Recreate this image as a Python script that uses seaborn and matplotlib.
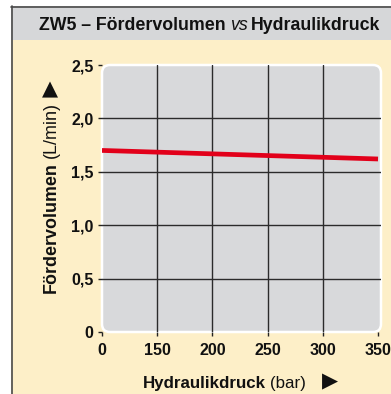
import numpy as np
import pandas as pd
import seaborn as sns
import matplotlib
matplotlib.use("Agg")
import matplotlib.pyplot as plt
from matplotlib import font_manager
from matplotlib.patches import Rectangle, FancyBboxPatch
from matplotlib.lines import Line2D
from matplotlib.transforms import IdentityTransform

# --- data -------------------------------------------------------------
# pressure axis starts at a broken origin: the "0" tick sits where 100 bar would be
pressure_bar = [100, 350]
flow_l_min = [1.70, 1.62]
x_ticks = [100, 150, 200, 250, 300, 350]
x_tick_labels = ["0", "150", "200", "250", "300", "350"]
y_ticks = [0, 0.5, 1.0, 1.5, 2.0, 2.5]
y_tick_labels = ["0", "0,5", "1,0", "1,5", "2,0", "2,5"]

df = pd.DataFrame({"Druck": pressure_bar, "Volumen": flow_l_min})

# --- style ------------------------------------------------------------
sns.set_theme(style="white")
available = {f.name for f in font_manager.fontManager.ttflist}
FAM = "Liberation Sans Narrow" if "Liberation Sans Narrow" in available else "Liberation Sans"
FAMS = [FAM, "DejaVu Sans"]
plt.rcParams["font.family"] = FAMS

CREAM = "#fdefc8"
HEADER = "#d6d7d9"
PANEL = "#d8d9db"
RED = "#e2001a"
INK = "#111111"

W, H = 391, 394
fig = plt.figure(figsize=(W / 100, H / 100), dpi=100)
fig.patch.set_facecolor("white")

def px(x0, y_top, x1, y_bot):
    """pixel box (top-left origin) -> figure fraction rect"""
    return (x0 / W, (H - y_bot) / H, (x1 - x0) / W, (y_bot - y_top) / H)

# background frame: cream body, grey header, dark border top and left
x, y, w, h = px(11, 6, W, H)
fig.patches.append(Rectangle((x, y), w, h, transform=fig.transFigure,
                             facecolor=CREAM, edgecolor="none", zorder=-5))
x, y, w, h = px(11, 6, W, 40)
fig.patches.append(Rectangle((x, y), w, h, transform=fig.transFigure,
                             facecolor=HEADER, edgecolor="none", zorder=-4))
fig.lines.append(Line2D([11.5 / W, 11.5 / W], [0, (H - 6) / H], transform=fig.transFigure,
                        color="#4a4a4a", lw=1.2, zorder=-3))
fig.lines.append(Line2D([11 / W, 1], [(H - 6.5) / H, (H - 6.5) / H], transform=fig.transFigure,
                        color="#4a4a4a", lw=1.2, zorder=-3))

# plot axes
AX_L, AX_T, AX_R, AX_B = 102, 65, 381, 332
ax = fig.add_axes(px(AX_L, AX_T, AX_R, AX_B))
ax.set_facecolor("none")

# rounded grey panel with a white rim behind the axes
panel = FancyBboxPatch((AX_L, H - AX_B), AX_R - AX_L, AX_B - AX_T,
                       boxstyle="round,pad=0,rounding_size=8",
                       transform=IdentityTransform(),
                       facecolor=PANEL, edgecolor="white", lw=1.8, zorder=-2)
fig.patches.append(panel)

sns.lineplot(data=df, x="Druck", y="Volumen", ax=ax, color=RED, lw=3.4,
             solid_capstyle="butt", legend=False, zorder=5)

ax.set_xlim(100, 352.7)
ax.set_ylim(0, 2.5)
ax.set_xticks(x_ticks)
ax.set_xticklabels(x_tick_labels)
ax.set_yticks(y_ticks)
ax.set_yticklabels(y_tick_labels)
for s in ax.spines.values():
    s.set_visible(False)
ax.tick_params(axis="both", which="major", direction="out", length=3, width=1,
               color="#222222", labelsize=11.5, labelcolor=INK)
ax.tick_params(axis="x", pad=5, bottom=True)
ax.tick_params(axis="y", pad=3, left=True)
for lab in ax.get_xticklabels() + ax.get_yticklabels():
    lab.set_fontweight("bold")
    lab.set_family(FAMS)
ax.set_xlabel("")
ax.set_ylabel("")

# interior grid lines only
for xv in x_ticks[1:-1]:
    ax.axvline(xv, color="#2b2b2b", lw=1.0, zorder=2)
for yv in y_ticks[1:-1]:
    ax.axhline(yv, color="#2b2b2b", lw=1.0, zorder=2)

# --- mixed-style text runs ---------------------------------------------
renderer = fig.canvas.get_renderer()

def text_run(pieces, start, end, baseline, rotation=0, size=14, gap=4):
    """Lay out (string, weight, style) pieces along a baseline between start and end
    (pixels), shrinking the font so that the run fills that span."""
    def layout(sz):
        texts, pos = [], start
        for i, (s, wgt, sty) in enumerate(pieces):
            xy = (pos, baseline) if rotation == 0 else (baseline, pos)
            t = fig.text(*xy, s, transform=IdentityTransform(), fontsize=sz,
                         fontweight=wgt, fontstyle=sty, family=FAMS, color=INK,
                         rotation=rotation, rotation_mode="anchor",
                         ha="left", va="baseline")
            bb = t.get_window_extent(renderer)
            pos += (bb.width if rotation == 0 else bb.height)
            if i < len(pieces) - 1:
                pos += gap
            texts.append(t)
        return texts, pos

    texts, pos = layout(size)
    for _ in range(3):
        span = pos - start
        target = end - start
        if abs(span - target) < 1:
            break
        gaps = gap * (len(pieces) - 1)
        size = size * (target - gaps) / (span - gaps)
        for t in texts:
            t.remove()
        texts, pos = layout(size)
    return texts

def marker(s, xy, size):
    fig.text(*xy, s, transform=IdentityTransform(), fontsize=size,
             family="DejaVu Sans", color=INK, ha="center", va="center")

# title
text_run([("ZW5 – Fördervolumen", "bold", "normal"),
          ("vs", "normal", "italic"),
          ("Hydraulikdruck", "bold", "normal")],
         start=39, end=381, baseline=H - 30, size=14, gap=4)

# x axis label
text_run([("Hydraulikdruck", "bold", "normal"),
          ("(bar)", "normal", "normal")],
         start=143, end=305, baseline=H - 388, size=14, gap=4)
marker("▶", (330, H - 381), 15)

# y axis label (rotated, reads bottom to top)
text_run([("Fördervolumen", "bold", "normal"),
          ("(L/min)", "normal", "normal")],
         start=H - 293, end=H - 102, baseline=56, rotation=90, size=14, gap=4)
marker("▲", (50, H - 89), 15)

fig.savefig("out.png", dpi=100, facecolor=fig.get_facecolor())
